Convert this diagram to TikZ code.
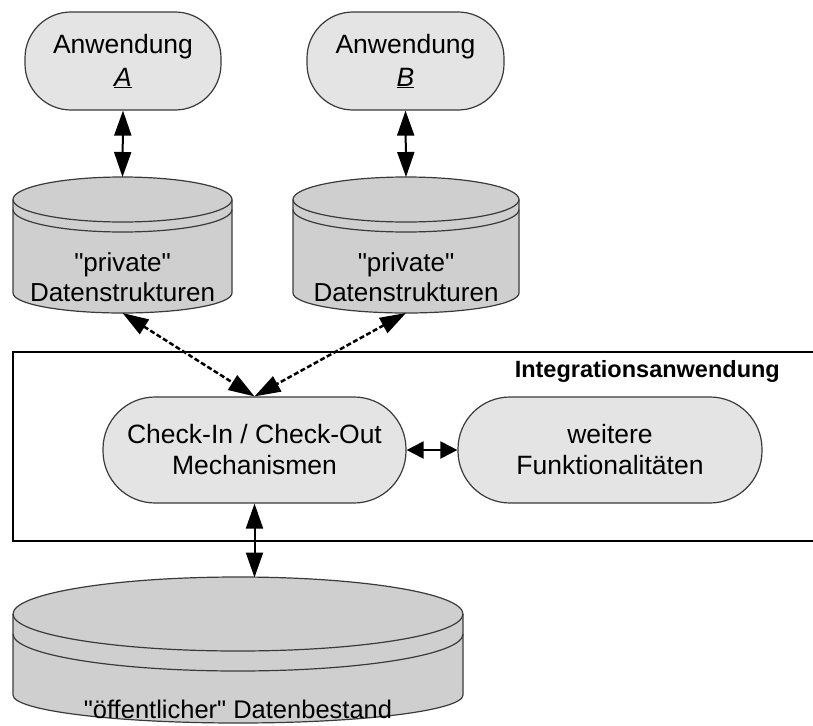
\documentclass[tikz,border=0pt]{standalone}
\usepackage{fontspec}
\setmainfont{Liberation Sans}
\usetikzlibrary{arrows.meta}
\definecolor{nodefill}{HTML}{E4E4E4}
\definecolor{cylfill}{HTML}{CFCFCF}
\definecolor{edgegray}{HTML}{3A3A3A}
\font\qfonta="Liberation Sans" at 26pt
\font\qfontb="Liberation Sans" at 25.5pt
\newcommand\dqa{{\qfonta\char34}}
\newcommand\dqb{{\qfontb\char34}}
\begin{document}
\begin{tikzpicture}[x=1pt,y=-1pt,
  appbox/.style={draw=edgegray, line width=1.2pt, fill=nodefill, rounded corners=46pt,
    minimum width=196pt, minimum height=98pt, align=center, inner sep=0pt,
    font=\fontsize{26.5}{33}\selectfont},
  funcbox/.style={appbox, rounded corners=52pt, minimum width=303pt, minimum height=106pt,
    font=\fontsize{26.5}{31}\selectfont},
  cyl/.style={draw=edgegray, line width=1.2pt, fill=cylfill},
  cyltext/.style={align=center, inner sep=0pt, font=\fontsize{26}{30}\selectfont},
  link/.style={line width=2pt, {Triangle[length=25pt,width=17pt]}-{Triangle[length=25pt,width=17pt]}},
  shortlink/.style={line width=2pt, {Triangle[length=17pt,width=17pt]}-{Triangle[length=17pt,width=17pt]}},
  dashlink/.style={line width=2.5pt, dash pattern=on 5pt off 2.5pt,
    {Triangle[length=26pt,width=17pt]}-{Triangle[length=26pt,width=17pt]}}
]
\useasboundingbox (0,0) rectangle (813,725);

% integration frame (right side cut off by the page)
\draw[line width=2pt] (813,352) -- (13,352) -- (13,541) -- (813,541);
\node[anchor=base east, inner sep=0pt, font=\fontsize{23.5}{28}\selectfont\bfseries] (intlabel) at (780,377) {Integrationsanwendung};

% applications
\node[appbox] (appA) at (123,61) {Anwendung\\\underline{\textit{A}}};
\node[appbox, minimum width=197pt] (appB) at (405.5,61) {Anwendung\\\underline{\textit{B}}};

% cylinder A
\filldraw[cyl] (13,199.5) -- (13,293) arc[start angle=180,end angle=360,x radius=109.5pt,y radius=20pt]
  -- (232,199.5) arc[start angle=0,end angle=180,x radius=109.5pt,y radius=22.5pt] -- cycle;
\draw[draw=edgegray, line width=1.2pt] (13,199.5) arc[start angle=180,end angle=360,x radius=109.5pt,y radius=22.5pt];
\draw[draw=edgegray, line width=1.2pt] (13,209.5) arc[start angle=180,end angle=360,x radius=109.5pt,y radius=22.5pt];
\node[cyltext] (dsA) at (122.5,277.5) {\dqa private\dqa\\Datenstrukturen};
\coordinate (cAt) at (122.5,177);
\coordinate (cAb) at (122.5,313);

% cylinder B
\filldraw[cyl] (293,199.5) -- (293,293) arc[start angle=180,end angle=360,x radius=113pt,y radius=20pt]
  -- (519,199.5) arc[start angle=0,end angle=180,x radius=113pt,y radius=22.5pt] -- cycle;
\draw[draw=edgegray, line width=1.2pt] (293,199.5) arc[start angle=180,end angle=360,x radius=113pt,y radius=22.5pt];
\draw[draw=edgegray, line width=1.2pt] (293,209.5) arc[start angle=180,end angle=360,x radius=113pt,y radius=22.5pt];
\node[cyltext] (dsB) at (406,277.5) {\dqa private\dqa\\Datenstrukturen};
\coordinate (cBt) at (406,177);
\coordinate (cBb) at (406,313);

% public data cylinder
\filldraw[cyl] (13,614) -- (13,695) arc[start angle=180,end angle=360,x radius=225pt,y radius=28pt]
  -- (463,614) arc[start angle=0,end angle=180,x radius=225pt,y radius=37pt] -- cycle;
\draw[draw=edgegray, line width=1.2pt] (13,614) arc[start angle=180,end angle=360,x radius=225pt,y radius=37pt];
\draw[draw=edgegray, line width=1.2pt] (13,634) arc[start angle=180,end angle=360,x radius=225pt,y radius=37pt];
\node[anchor=base, inner sep=0pt, font=\fontsize{25.5}{30}\selectfont] (pub) at (238,718) {\dqb öffentlicher\dqb{} Datenbestand};
\coordinate (pubtop) at (254.5,577.5);

% integration functions
\node[funcbox] (chk) at (254.5,450) {Check-In / Check-Out\\Mechanismen};
\node[funcbox, minimum width=304pt] (wf) at (610,450) {weitere\\Funktionalitäten};

% connectors
\draw[link] (appA.south) -- (cAt);
\draw[link] (appB.south) -- (cBt);
\draw[dashlink] (cAb) -- (chk.north);
\draw[dashlink] (cBb) -- (chk.north);
\draw[shortlink] (chk.east) -- (wf.west);
\draw[link] (chk.south) -- (pubtop);
\end{tikzpicture}
\end{document}
